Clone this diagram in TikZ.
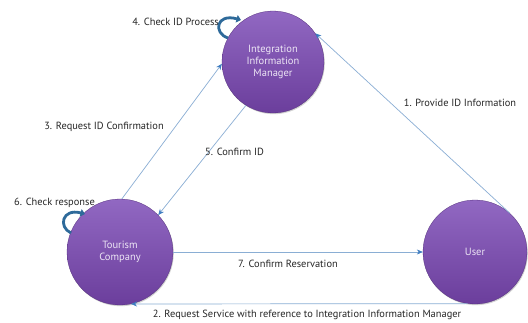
\documentclass[tikz,border=0pt]{standalone}
\usepackage{fontspec}
\setmainfont{PT Sans}
\usetikzlibrary{arrows.meta,shadows}
\definecolor{linecol}{HTML}{8AAED4}
\definecolor{tipcol}{HTML}{3D7CC0}
\definecolor{loopcol}{HTML}{2E6A9A}
\definecolor{toppurple}{HTML}{9168C2}
\definecolor{botpurple}{HTML}{6B3E9C}
\definecolor{intext}{HTML}{EDE6F5}
\tikzset{
  actor/.style={circle, minimum size=#1, inner sep=0pt, top color=toppurple, bottom color=botpurple,
    draw=botpurple!80!black, line width=0.3pt, align=center, text=intext,
    font=\fontsize{10.5}{12}\selectfont,
    drop shadow={shadow xshift=0.8pt, shadow yshift=-1.2pt, opacity=0.35}},
  flow/.style={draw=linecol, line width=0.7pt, -{Stealth[length=6pt,width=5pt,color=tipcol]}},
  selfloop/.style={draw=loopcol, line width=2.8pt, -{Triangle[length=4.5pt,width=7.5pt]}},
  lbl/.style={font=\fontsize{10.4}{12}\selectfont, text=black!85, inner sep=0pt}
}
\begin{document}
\begin{tikzpicture}[x=1pt,y=-1pt]
\useasboundingbox[fill=white] (0,0) rectangle (528,322);
\node[actor=102pt] (iim) at (273,62) {Integration\\Information\\Manager};
\node[actor=106pt] (tc) at (120,252) {Tourism\\Company};
\node[actor=104pt] (usr) at (475,252) {User};

% connectors
\draw[flow] (usr.48) -- (iim.34);
\draw[flow] (usr.262) -- (tc.282);
\draw[flow] (tc.88) -- (iim.182);
\draw[flow] (iim.238) -- (tc.44);
\draw[flow] (tc.east) -- (usr.west);

% self loops
\coordinate (a4) at (228,38);
\coordinate (b4) at (241,20);
\draw[selfloop] (a4) .. controls (213,33) and (216,13) .. (b4);
\coordinate (a6) at (71,233);
\coordinate (b6) at (85,214);
\draw[selfloop] (a6) .. controls (58,227) and (62,208) .. (b6);

% labels
\node[lbl, anchor=east] (l4) at (219,22) {4. Check ID Process};
\node[lbl] (l1) at (460,103) {1. Provide ID Information};
\node[lbl] (l3) at (104,127) {3. Request ID Confirmation};
\node[lbl, anchor=west] (l5) at (205,152) {5. Confirm ID};
\node[lbl, anchor=east] (l6) at (95,203) {6. Check response};
\node[lbl, anchor=west] (l7) at (238,264) {7. Confirm Reservation};
\node[lbl] (l2) at (307,315) {2. Request Service with reference to Integration Information Manager};
\end{tikzpicture}
\end{document}
